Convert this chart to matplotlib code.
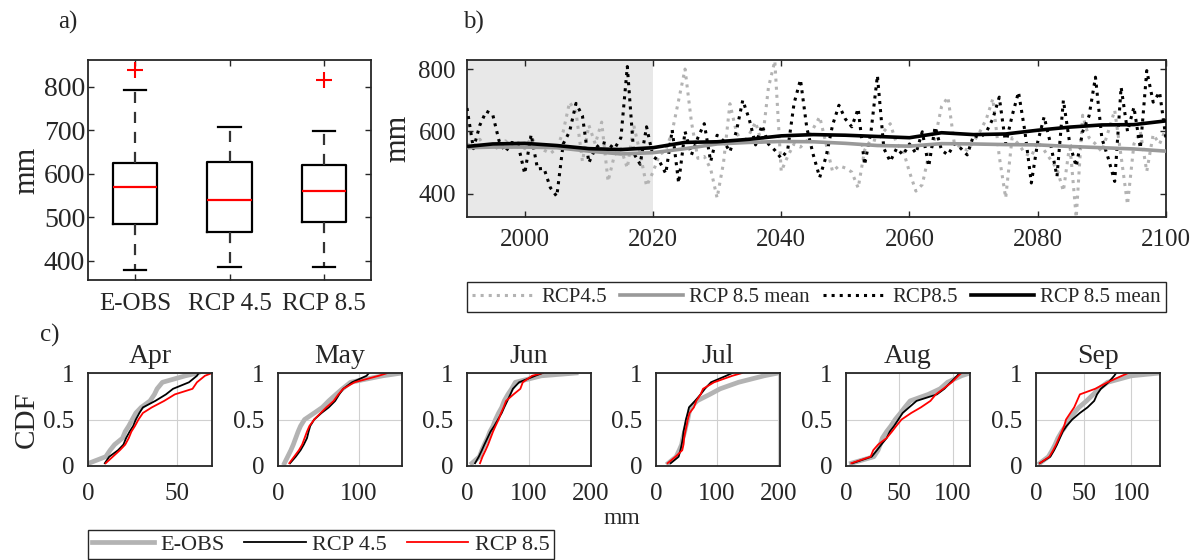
import matplotlib
matplotlib.use("Agg")
import matplotlib.pyplot as plt
import numpy as np

matplotlib.rcParams['font.family'] = ['Liberation Serif', 'DejaVu Serif']
matplotlib.rcParams['text.color'] = '#262626'
matplotlib.rcParams['axes.labelcolor'] = '#262626'
matplotlib.rcParams['xtick.color'] = '#262626'
matplotlib.rcParams['ytick.color'] = '#262626'
matplotlib.rcParams['axes.edgecolor'] = '#262626'

# ---- a) boxplot stats (mm) ----
box_names = ["E-OBS", "RCP 4.5", "RCP 8.5"]
box_med = [570, 540, 560]
box_q1 = [485, 467, 490]
box_q3 = [625, 627, 620]
box_lo = [378, 385, 385]
box_hi = [792, 707, 698]
box_out = [[840], [], [815]]

# ---- b) annual series 1991-2100 (mm) ----
years = list(range(1991, 2101))
rcp45 = [560, 550, 575, 545, 560, 540, 570, 550, 565, 545,
         580, 555, 540, 530, 545, 600, 694, 662, 504, 620,
         560, 630, 440, 525, 545, 483, 620, 530, 425, 470,
         525, 540, 600, 700, 800, 630, 514, 520, 480, 387,
         500, 689, 599, 560, 590, 630, 560, 740, 826, 472,
         520, 560, 550, 570, 610, 647, 560, 472, 490, 483,
         470, 419, 540, 575, 570, 600, 625, 560, 540, 470,
         409, 430, 525, 580, 680, 710, 560, 550, 540, 567,
         600, 641, 705, 520, 387, 580, 560, 530, 520, 567,
         540, 510, 480, 409, 560, 324, 652, 580, 560, 535,
         600, 668, 520, 366, 560, 600, 472, 590, 560, 610]
rcp85 = [675, 545, 620, 665, 655, 570, 535, 565, 555, 465,
         590, 480, 482, 420, 392, 560, 600, 690, 650, 500,
         545, 565, 560, 545, 580, 808, 530, 495, 615, 520,
         505, 465, 605, 435, 600, 525, 580, 625, 504, 588,
         570, 535, 600, 700, 640, 557, 620, 560, 540, 514,
         540, 690, 766, 610, 525, 453, 520, 620, 684, 640,
         615, 673, 493, 600, 779, 546, 504, 546, 525, 560,
         530, 599, 488, 615, 540, 525, 560, 546, 525, 588,
         580, 599, 641, 710, 560, 650, 726, 600, 435, 567,
         647, 560, 456, 700, 560, 488, 599, 650, 774, 578,
         514, 440, 742, 600, 678, 546, 795, 694, 726, 578]
mean_years = [1991, 1995, 2000, 2005, 2010, 2015, 2020, 2025, 2030, 2035, 2040, 2045,
              2050, 2055, 2060, 2065, 2070, 2075, 2080, 2085, 2090, 2095, 2100]
rcp45_mean = [548, 550, 550, 548, 537, 528, 532, 545, 560, 565, 568, 567,
              562, 555, 553, 561, 560, 558, 557, 552, 548, 544, 537]
rcp85_mean = [552, 560, 562, 555, 545, 542, 548, 565, 567, 575, 586, 590,
              588, 584, 580, 596, 590, 592, 604, 614, 621, 622, 634]

# ---- c) CDFs: values (mm) at these cumulative levels ----
cdf_levels = [0.03, 0.1, 0.17, 0.23, 0.3, 0.37, 0.43, 0.5,
              0.57, 0.63, 0.7, 0.77, 0.83, 0.9, 0.97, 1.0]
months = ["Apr", "May", "Jun", "Jul", "Aug", "Sep"]
month_xmax = [70, 154, 197, 203, 116, 130]
month_ticks = [[0, 50], [0, 100], [0, 100, 200], [0, 100, 200], [0, 50, 100], [0, 50, 100]]
eobs_cdf = [
    [0.5, 10, 12.5, 15, 19.5, 21, 23, 25, 27, 30, 35, 37.5, 39, 42, 55, 62],
    [8, 12, 16, 19, 22, 25, 28, 33, 45, 55, 63, 72, 80, 90, 130, 154],
    [8, 20, 24, 28, 33, 37, 42, 46, 51, 56, 60, 66, 72, 78, 120, 176],
    [20, 33, 38, 42, 44, 47, 49, 52, 54, 57, 67, 88, 105, 135, 177, 200],
    [5, 26, 30, 32, 34, 38, 42, 46, 51, 55, 60, 77, 88, 95, 108, 116],
    [4, 13, 17, 20, 23, 27, 31, 35, 40, 45, 53, 60, 66, 75, 100, 130],
]
rcp45_cdf = [
    [9.5, 12, 17, 20, 21.5, 23.5, 25.5, 27, 29, 31, 38, 44, 48, 57, 61.5, 62.5],
    [15, 22, 28, 32, 36, 38, 40, 45, 54, 63, 71, 76, 81, 92, 110, 113],
    [13, 19, 24, 28, 33, 38, 44, 50, 56, 60, 65, 70, 74, 84, 110, 122],
    [24, 37, 40, 42, 44, 45, 47, 49, 52, 54, 64, 73, 80, 90, 115, 125],
    [6, 24, 29, 33, 38, 41, 45, 49, 53, 59, 66, 85, 92, 98, 104, 106],
    [4, 15, 19, 22, 25, 28, 32, 38, 46, 54, 61, 64, 68, 76, 82, 84],
]
rcp85_cdf = [
    [10, 14, 18, 21, 23, 24.5, 26.5, 28.5, 31, 36, 43, 49, 59, 61.5, 66, 70],
    [14, 20, 26, 30, 33, 36, 39, 45, 53, 60, 69, 75, 81, 95, 125, 136],
    [21, 25, 30, 34, 38, 42, 46, 51, 55, 59, 63, 75, 86, 90, 105, 122],
    [19, 32, 43, 45, 46, 48, 50, 52, 55, 62, 66, 73, 77, 95, 125, 141],
    [5, 23, 25.5, 30, 38, 43, 47, 52, 61, 70, 79, 84, 91, 99, 105, 108],
    [4, 14, 18, 21, 24, 27, 29.5, 31.5, 36, 40, 43, 46, 62, 75, 90, 97],
]

W, H = 1199, 560
fig = plt.figure(figsize=(W / 100, H / 100), dpi=100)


def frac(x0, y0, x1, y1):
    return [x0 / W, 1 - y1 / H, (x1 - x0) / W, (y1 - y0) / H]


def matlab_style(ax, size=18):
    ax.tick_params(direction='in', top=True, right=True, labelsize=size,
                   length=4, width=1)
    for s in ax.spines.values():
        s.set_linewidth(1.3)


# a) boxplot
ax_a = fig.add_axes(frac(88, 60, 371, 280))
stats = []
for i in range(3):
    stats.append({"med": box_med[i], "q1": box_q1[i], "q3": box_q3[i],
                  "whislo": box_lo[i], "whishi": box_hi[i], "fliers": box_out[i],
                  "label": box_names[i]})
ax_a.bxp(stats, positions=[1, 2, 3], widths=0.47, showfliers=True,
         boxprops=dict(color='black', linewidth=1.6),
         medianprops=dict(color='red', linewidth=1.6),
         whiskerprops=dict(color='#333333', linewidth=1.6, linestyle=(0, (5, 4))),
         capprops=dict(color='black', linewidth=1.6),
         flierprops=dict(marker='+', markeredgecolor='red', markersize=11, markeredgewidth=1.5))
ax_a.set_xlim(0.5, 3.5)
ax_a.set_ylim(356, 862)
ax_a.set_yticks([400, 500, 600, 700, 800])
ax_a.set_ylabel("mm", fontsize=22, labelpad=2)
matlab_style(ax_a)
ax_a.tick_params(axis='y', labelsize=20, pad=2)
ax_a.tick_params(axis='x', labelsize=18, pad=9)

# b) time series
ax_b = fig.add_axes(frac(467, 60, 1166, 217))
ax_b.axvspan(1991, 2020, color='#e8e8e8', zorder=0, lw=0)
ax_b.plot(years, rcp45, ls=':', color='#b3b3b3', lw=2.2, label="RCP4.5", zorder=2)
ax_b.plot(mean_years, rcp45_mean, color='#999999', lw=2.6, label="RCP 8.5 mean", zorder=4)
ax_b.plot(years, rcp85, ls=':', color='black', lw=2.2, label="RCP8.5", zorder=3)
ax_b.plot(mean_years, rcp85_mean, color='black', lw=2.6, label="RCP 8.5 mean", zorder=5)
ax_b.set_xlim(1991, 2100)
ax_b.set_ylim(326, 829)
ax_b.set_xticks([2000, 2020, 2040, 2060, 2080, 2100])
ax_b.set_yticks([400, 600, 800])
ax_b.set_ylabel("mm", fontsize=22, labelpad=4)
matlab_style(ax_b)
ax_b.tick_params(axis='x', pad=9)
ax_b.tick_params(axis='y', pad=8)
fig.legend(*ax_b.get_legend_handles_labels(), loc='lower left', ncol=4, mode='expand',
           bbox_to_anchor=(467 / W, 1 - 312 / H, 699 / W, 30 / H), borderaxespad=0,
           fontsize=15, handlelength=3.0, handletextpad=0.3, columnspacing=0.5,
           borderpad=0.25, fancybox=False, edgecolor='#262626', framealpha=1)

# c) CDFs
lefts = [88, 278, 467, 656, 846, 1036]
for i, m in enumerate(months):
    ax = fig.add_axes(frac(lefts[i], 373, lefts[i] + 124, 466))
    ax.grid(True, color='#d0d0d0', lw=0.8)
    ax.set_axisbelow(True)
    ax.plot(eobs_cdf[i], cdf_levels, color='#b3b3b3', lw=3.4, label="E-OBS")
    ax.plot(rcp45_cdf[i], cdf_levels, color='black', lw=1.3, label="RCP 4.5")
    ax.plot(rcp85_cdf[i], cdf_levels, color='red', lw=1.3, label="RCP 8.5")
    ax.set_xlim(0, month_xmax[i])
    ax.set_ylim(0, 1)
    ax.set_xticks(month_ticks[i])
    ax.set_yticks([0, 0.5, 1])
    ax.set_yticklabels(["0", "0.5", "1"])
    ax.set_title(m, fontsize=20, pad=7)
    matlab_style(ax)
    ax.tick_params(length=0)
    ax.tick_params(axis='x', pad=12)
    ax.tick_params(axis='y', pad=10)
    if i == 0:
        ax.set_ylabel("CDF", fontsize=21, labelpad=2)
        c_handles = ax.get_legend_handles_labels()

fig.text(622 / W, 1 - 518 / H, "mm", fontsize=17, ha='center', va='center')
fig.legend(*c_handles, loc='upper left', ncol=3,
           bbox_to_anchor=(88 / W, 1 - 530 / H), borderaxespad=0,
           fontsize=16, handlelength=2.75, handletextpad=0.3, columnspacing=0.9,
           borderpad=0.2, fancybox=False, edgecolor='#262626', framealpha=1)

fig.text(68 / W, 1 - 22 / H, "a)", fontsize=18, ha='center', va='center')
fig.text(473 / W, 1 - 22 / H, "b)", fontsize=18, ha='center', va='center')
fig.text(50 / W, 1 - 335 / H, "c)", fontsize=18, ha='center', va='center')

fig.savefig("out.png", dpi=100)
